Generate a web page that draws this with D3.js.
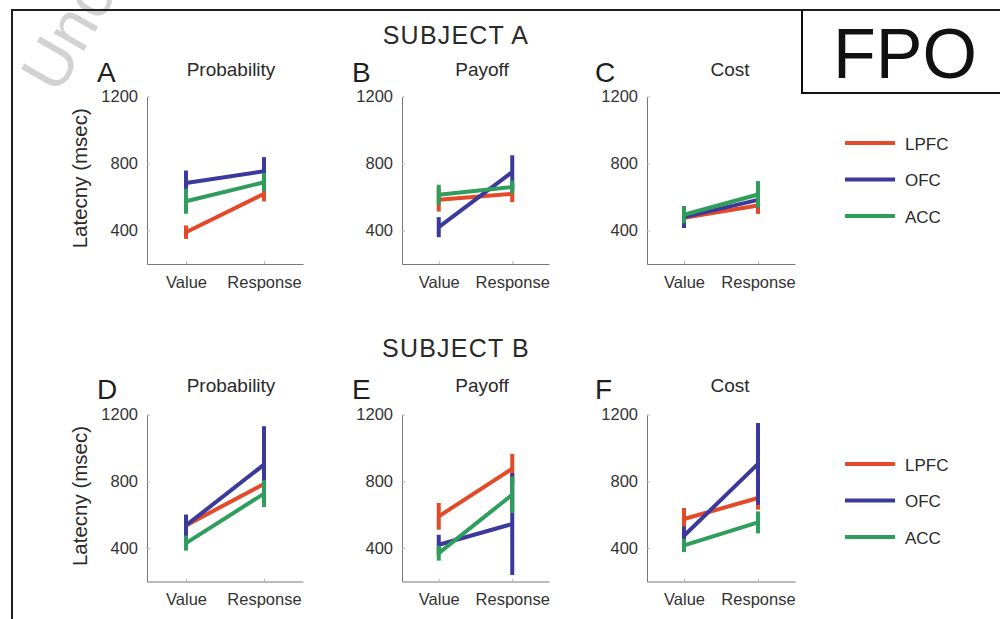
<!DOCTYPE html>
<html>
<head>
<meta charset="utf-8">
<script src="https://cdn.jsdelivr.net/npm/d3@7.9.0/dist/d3.min.js"></script>
<style>
  body { margin: 0; background: #fff; }
  svg { display: block; font-family: "Liberation Sans", Arial, sans-serif; }
</style>
</head>
<body>
<svg id="chart" width="1000" height="619"></svg>
<script>
const regions = ['LPFC', 'OFC', 'ACC'];
const regionColors = ['#e24a2a', '#3b3a9c', '#2f9d5c'];
const conditions = ['Value', 'Response'];
const yTicks = [400, 800, 1200];
const subjects = ['SUBJECT A', 'SUBJECT B'];
const panelTitles = ['Probability', 'Payoff', 'Cost'];
const panelLetters = [['A', 'B', 'C'], ['D', 'E', 'F']];

// mean latency [panel][region] = [Value, Response]
const subjAMean = [
  [[390, 619], [683, 754], [575, 688]],
  [[583, 619], [420, 749], [613, 659]],
  [[476, 549], [480, 583], [494, 615]]
];
const subjAErr = [
  [[40, 45], [75, 84], [75, 55]],
  [[70, 50], [60, 100], [60, 40]],
  [[40, 50], [65, 50], [50, 80]]
];
const subjBMean = [
  [[536, 784], [536, 900], [430, 726]],
  [[590, 876], [420, 544], [370, 720]],
  [[574, 700], [474, 904], [416, 554]]
];
const subjBErr = [
  [[55, 50], [65, 230], [45, 80]],
  [[80, 88], [60, 305], [45, 110]],
  [[66, 70], [55, 245], [40, 66]]
];

const svg = d3.select('#chart');

// faint watermark behind everything
svg.append('text')
  .attr('transform', 'translate(58,96) rotate(-60)')
  .attr('font-size', 66)
  .attr('fill', '#d2d2d2')
  .text('Uncorrected');

// page frame
svg.append('line').attr('x1', 11).attr('x2', 1000).attr('y1', 10).attr('y2', 10)
  .attr('stroke', '#1e1e1e').attr('stroke-width', 2);
svg.append('line').attr('x1', 12).attr('x2', 12).attr('y1', 10).attr('y2', 619)
  .attr('stroke', '#1e1e1e').attr('stroke-width', 2);

// FPO box
svg.append('path').attr('d', 'M802,10V93H1001')
  .attr('fill', 'none').attr('stroke', '#111').attr('stroke-width', 2);
svg.append('text').attr('x', 905).attr('y', 78).attr('text-anchor', 'middle')
  .attr('font-size', 70).attr('fill', '#111').text('FPO');

const cols = [
  { left: 147, right: 303, titleX: 231 },
  { left: 402, right: 549, titleX: 482 },
  { left: 647, right: 795, titleX: 730 }
];
const rows = [
  { top: 96.5, bottom: 264, subjY: 44, titleY: 76, letterY: 82, legendY: 143, mean: subjAMean, err: subjAErr },
  { top: 414.5, bottom: 581.5, subjY: 357, titleY: 392, letterY: 399, legendY: 464, mean: subjBMean, err: subjBErr }
];
const letterX = [97, 352, 595];

rows.forEach((row, ri) => {
  svg.append('text')
    .attr('x', 456).attr('y', row.subjY)
    .attr('text-anchor', 'middle')
    .attr('font-size', 25).attr('letter-spacing', 1.2)
    .attr('fill', '#2a2a2a')
    .text(subjects[ri]);

  const yScale = d3.scaleLinear().domain([200, 1200]).range([row.bottom, row.top]);

  cols.forEach((col, ci) => {
    const xScale = d3.scaleLinear().domain([0.5, 2.5]).range([col.left, col.right]);
    const g = svg.append('g');

    g.append('text')
      .attr('x', letterX[ci]).attr('y', row.letterY)
      .attr('font-size', 28).attr('fill', '#1e1e1e')
      .text(panelLetters[ri][ci]);

    g.append('text')
      .attr('x', col.titleX).attr('y', row.titleY)
      .attr('text-anchor', 'middle')
      .attr('font-size', 19).attr('fill', '#2a2a2a')
      .text(panelTitles[ci]);

    const yAxis = d3.axisLeft(yScale)
      .tickValues(yTicks).tickFormat(d3.format('d'))
      .tickSizeInner(-3).tickSizeOuter(0).tickPadding(9);
    const xAxis = d3.axisBottom(xScale)
      .tickValues([1, 2]).tickFormat((d, i) => conditions[i])
      .tickSizeInner(-3).tickSizeOuter(0).tickPadding(12);

    const ya = g.append('g').attr('transform', `translate(${col.left},0)`).call(yAxis);
    const xa = g.append('g').attr('transform', `translate(0,${row.bottom})`).call(xAxis);
    [ya, xa].forEach(a => {
      a.select('.domain').attr('stroke', '#777');
      a.selectAll('.tick line').attr('stroke', '#bbb');
      a.selectAll('.tick text').attr('font-size', 16.5).attr('fill', '#333')
        .attr('font-family', '"Liberation Sans", Arial, sans-serif');
    });

    const line = d3.line().x((d, i) => xScale(i + 1)).y(d => yScale(d));

    regions.forEach((r, k) => {
      const m = row.mean[ci][k];
      const e = row.err[ci][k];
      m.forEach((v, i) => {
        g.append('line')
          .attr('x1', xScale(i + 1)).attr('x2', xScale(i + 1))
          .attr('y1', yScale(v - e[i])).attr('y2', yScale(v + e[i]))
          .attr('stroke', regionColors[k]).attr('stroke-width', 4);
      });
      g.append('path')
        .attr('d', line(m))
        .attr('fill', 'none')
        .attr('stroke', regionColors[k]).attr('stroke-width', 4);
    });

    if (ci === 0) {
      const cy = (row.top + row.bottom) / 2 - 2;
      g.append('text')
        .attr('transform', `translate(87,${cy}) rotate(-90)`)
        .attr('text-anchor', 'middle')
        .attr('font-size', 20.5).attr('fill', '#2a2a2a')
        .text('Latecny (msec)');
    }
  });

  // legend
  const lg = svg.append('g');
  regions.forEach((r, k) => {
    const ly = row.legendY + k * 36.5;
    lg.append('line').attr('x1', 845).attr('x2', 895).attr('y1', ly).attr('y2', ly)
      .attr('stroke', regionColors[k]).attr('stroke-width', 4);
    lg.append('text').attr('x', 905).attr('y', ly + 6.5)
      .attr('font-size', 17).attr('fill', '#2a2a2a').text(r);
  });
});
</script>
</body>
</html>
